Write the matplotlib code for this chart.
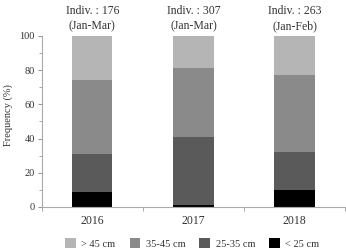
import numpy as np
import matplotlib.pyplot as plt
from matplotlib.ticker import MultipleLocator, FixedLocator

plt.rcParams['font.family'] = ['Liberation Serif', 'DejaVu Serif']

# data (percent)
years = ['2016', '2017', '2018']
notes = ['Indiv. : 176\n(Jan-Mar)', 'Indiv. : 307\n(Jan-Mar)', 'Indiv. : 263\n(Jan-Feb)']
lt25 = [9, 1, 10]
s25_35 = [22, 40, 22]
s35_45 = [43, 40, 45]
gt45 = [26, 19, 23]

labels = ['> 45 cm', '35-45 cm', '25-35 cm', '< 25 cm']
colors = ['#b5b5b5', '#8a8a8a', '#5a5a5a', '#000000']

fig = plt.figure(figsize=(3.46, 2.5), dpi=100)
ax = fig.add_axes([0.1205, 0.172, 0.877, 0.684])

x = np.arange(len(years))
w = 0.4
stack = [lt25, s25_35, s35_45, gt45]
bottom = np.zeros(len(years))
bars = []
for vals, c in zip(stack, colors[::-1]):
    b = ax.bar(x, vals, w, bottom=bottom, color=c, edgecolor='none')
    bars.append(b)
    bottom += np.array(vals)

for xi, t in zip(x, notes):
    ax.text(xi, 102.3, t, ha='center', va='bottom', fontsize=8.5, color='#333333',
            linespacing=1.3, clip_on=False)

ax.set_xlim(-0.5, 2.5)
ax.set_ylim(0, 100)
ax.set_xticks(x)
ax.set_xticklabels(years, fontsize=8.5, color='#333333')
ax.xaxis.set_minor_locator(FixedLocator([-0.5, 0.5, 1.5, 2.5]))
ax.tick_params(axis='x', which='major', length=0, pad=6)
ax.tick_params(axis='x', which='minor', length=3, direction='out', color='#999999')
ax.yaxis.set_major_locator(MultipleLocator(20))
ax.yaxis.set_minor_locator(MultipleLocator(10))
ax.tick_params(axis='y', which='major', length=3, labelsize=7.5, labelcolor='#333333',
               color='#999999', pad=2)
ax.tick_params(axis='y', which='minor', length=2, color='#999999')
ax.set_ylabel('Frequency (%)', fontsize=7.5, color='#333333')
ax.yaxis.set_label_coords(-0.095, 0.54)

for s in ['top', 'right']:
    ax.spines[s].set_visible(False)
for s in ['left', 'bottom']:
    ax.spines[s].set_color('#aaaaaa')
    ax.spines[s].set_linewidth(0.8)

handles = bars[::-1]
leg = fig.legend(handles, labels, loc='center', bbox_to_anchor=(0.556, 0.026), ncol=4,
                 frameon=False, fontsize=7.5, handlelength=1.0, handleheight=1.0,
                 handletextpad=0.55, columnspacing=1.35, borderpad=0)
for t in leg.get_texts():
    t.set_color('#333333')

fig.savefig('out.png', dpi=100)
